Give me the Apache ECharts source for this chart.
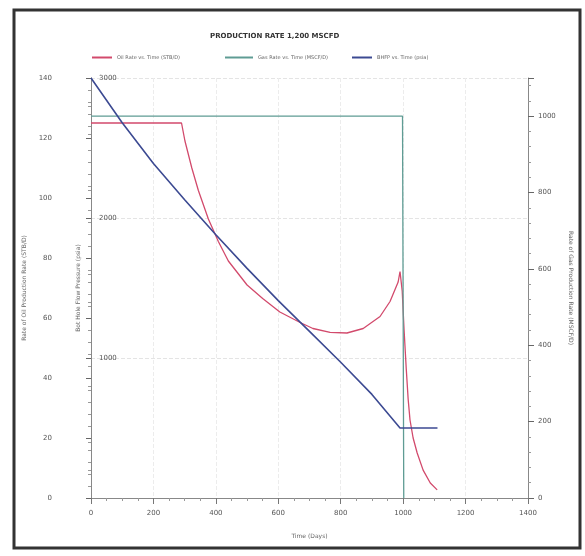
<!DOCTYPE html>
<html>
<head>
<meta charset="utf-8">
<script src="https://cdn.jsdelivr.net/npm/echarts@6/dist/echarts.min.js"></script>
<style>html,body{margin:0;padding:0;background:#fff}#c{width:585px;height:556px}</style>
</head>
<body>
<div id="c"></div>
<script>
// ---- data ----
const chartTitle = 'PRODUCTION RATE 1,200 MSCFD';
const seriesNames = ['Oil Rate vs. Time (STB/D)', 'Gas Rate vs. Time (MSCF/D)', 'BHFP vs. Time (psia)'];
const oilTime = [0, 100, 200, 290, 301, 323, 344, 376, 408, 440, 500, 550, 605, 670, 711, 766, 820, 872, 926, 958, 984, 990, 997, 1003, 1010, 1016, 1022, 1032, 1045, 1064, 1087, 1109];
const oilRate = [125, 125, 125, 125, 119, 110, 102.5, 93, 85.5, 79, 71, 66.5, 62, 58.5, 56.5, 55.2, 55, 56.5, 60.5, 65.5, 72, 75.5, 69, 56, 43, 33, 26, 20, 15, 9.3, 5, 2.7];
const gasTime = [0, 998, 1002];
const gasRate = [1000, 1000, 0];
const presTime = [0, 100, 200, 300, 400, 500, 600, 700, 800, 900, 990, 1110];
const presVal = [3000, 2680, 2390, 2130, 1880, 1640, 1410, 1190, 970, 740, 500, 500];

const zip = (a, b) => a.map((v, i) => [v, b[i]]);
const chart = echarts.init(document.getElementById('c'));
const lab = {fontSize: 7, color: '#555', fontFamily: 'DejaVu Sans', formatter: v => String(v)};
const nameStyle = {fontSize: 6, color: '#666', fontFamily: 'DejaVu Sans'};
const axLine = {show: true, lineStyle: {color: '#888', width: 1}};
const legStyle = {fontSize: 5, color: '#666', fontFamily: 'DejaVu Sans'};
chart.setOption({
  animation: false,
  backgroundColor: '#fff',
  title: {text: chartTitle, left: 205, top: 28, textStyle: {fontSize: 7, fontWeight: 'bold', color: '#333', fontFamily: 'DejaVu Sans'}},
  legend: [
    {data: [seriesNames[0]], left: 87, top: 50, itemWidth: 20, itemHeight: 2, icon: 'rect', textStyle: legStyle},
    {data: [seriesNames[1]], left: 220, top: 50, itemWidth: 28, itemHeight: 2, icon: 'rect', textStyle: legStyle},
    {data: [seriesNames[2]], left: 347, top: 50, itemWidth: 20, itemHeight: 2, icon: 'rect', textStyle: legStyle}
  ],
  graphic: [{type: 'rect', shape: {x: 14, y: 10, width: 566, height: 538}, style: {fill: 'none', stroke: '#333', lineWidth: 3}, silent: true}],
  grid: {left: 91, top: 78, width: 437, height: 420},
  xAxis: {
    type: 'value', min: 0, max: 1400, interval: 200,
    name: 'Time (Days)', nameLocation: 'middle', nameGap: 35, nameTextStyle: nameStyle,
    axisLine: axLine, axisTick: {show: true, length: 6, lineStyle: {color: '#777'}},
    minorTick: {show: true, splitNumber: 4, length: 3, lineStyle: {color: '#999'}},
    axisLabel: Object.assign({}, lab, {margin: 12}),
    splitLine: {show: true, lineStyle: {color: '#ececec', type: 'dashed'}}
  },
  yAxis: [
    {
      type: 'value', min: 0, max: 140, interval: 20, position: 'left', offset: 31,
      name: 'Rate of Oil Production Rate (STB/D)', nameLocation: 'middle', nameGap: 26, nameRotate: 90, nameTextStyle: nameStyle,
      axisLine: axLine, axisTick: {show: true, length: 5, lineStyle: {color: '#666'}},
      minorTick: {show: true, splitNumber: 5, length: 3, lineStyle: {color: '#999'}},
      axisLabel: Object.assign({}, lab, {margin: 8}),
      splitLine: {show: false}
    },
    {
      type: 'value', min: 0, max: 3000, interval: 1000, position: 'left', offset: 0,
      name: 'Bot Hole Flow Pressure (psia)', nameLocation: 'middle', nameGap: 10, nameRotate: 90, nameTextStyle: nameStyle,
      axisLine: axLine, axisTick: {show: true, inside: false, length: 5, lineStyle: {color: '#666'}},
      minorTick: {show: true, splitNumber: 5, length: 3, lineStyle: {color: '#999'}},
      axisLabel: Object.assign({}, lab, {inside: true, margin: 8, showMinLabel: false}),
      splitLine: {show: true, lineStyle: {color: '#e4e4e4', type: 'dashed'}}
    },
    {
      type: 'value', min: 0, max: 1100, interval: 200, position: 'right', offset: 0,
      name: 'Rate of Gas Production Rate (MSCF/D)', nameLocation: 'middle', nameGap: 40, nameRotate: -90, nameTextStyle: nameStyle,
      axisLine: axLine, axisTick: {show: true, length: 6, lineStyle: {color: '#666'}},
      minorTick: {show: true, splitNumber: 5, length: 3, lineStyle: {color: '#999'}},
      axisLabel: Object.assign({}, lab, {margin: 10, showMaxLabel: false}),
      splitLine: {show: false}
    }
  ],
  series: [
    {name: seriesNames[0], type: 'line', yAxisIndex: 0, data: zip(oilTime, oilRate), showSymbol: false, lineStyle: {color: '#d24a6c', width: 1.3}, itemStyle: {color: '#d24a6c'}},
    {name: seriesNames[1], type: 'line', yAxisIndex: 2, data: zip(gasTime, gasRate), showSymbol: false, lineStyle: {color: '#5f9c94', width: 1.3}, itemStyle: {color: '#5f9c94'}},
    {name: seriesNames[2], type: 'line', yAxisIndex: 1, data: zip(presTime, presVal), showSymbol: false, lineStyle: {color: '#3c4a92', width: 1.6}, itemStyle: {color: '#3c4a92'}}
  ]
});
</script>
</body>
</html>
